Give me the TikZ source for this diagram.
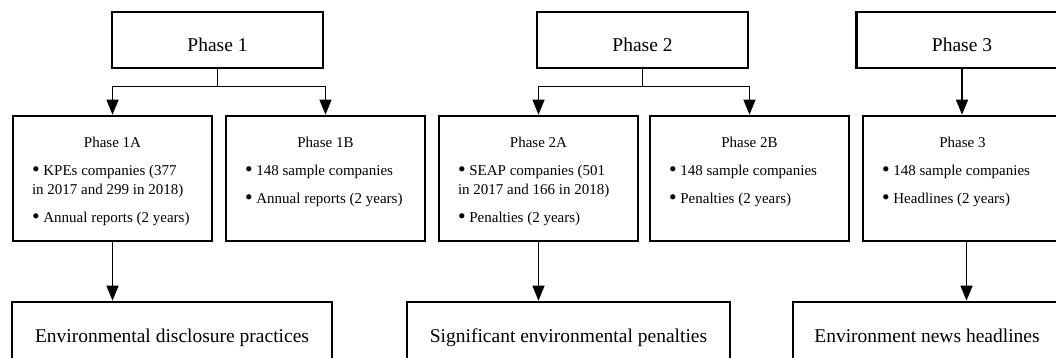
\documentclass[tikz,border=0pt]{standalone}
\usepackage{fontspec}
\setmainfont{Liberation Serif}
\usepackage{graphicx}
\usepackage{tikz}
\usetikzlibrary{arrows.meta}

\tikzset{
  phasebox/.style={draw, line width=2.6pt, minimum width=211pt, minimum height=56pt, inner sep=0pt,
    font=\fontsize{19.5pt}{23pt}\selectfont, text height=26pt, text depth=2pt},
  subbox/.style={draw, line width=2.6pt, minimum width=199pt, minimum height=125pt, inner sep=0pt,
    font=\fontsize{15pt}{19pt}\selectfont},
  outbox/.style={draw, line width=2.6pt, minimum height=70pt, inner sep=0pt,
    font=\fontsize{19.5pt}{23pt}\selectfont, text height=14pt, text depth=4pt},
  link/.style={line width=1.3pt},
  arr/.style={link, -{Triangle[length=15pt,width=12pt]}}
}

% box text: heading, then bullet items
\newcommand{\phasetext}[2]{\parbox[c][109pt][t]{161pt}{\centering\rule{0pt}{24pt}#1\par\raggedright #2}}
\newcommand{\bitem}[1]{\par\vspace{8.5pt}\raisebox{-1.4pt}{\scalebox{1.45}{\textbullet}}\ #1}

\begin{document}
\begin{tikzpicture}[x=1pt, y=-1pt]

    % Frame
    \useasboundingbox (0,0) rectangle (1056,358);
    \clip (0,0) rectangle (1056,358);

    % Phases
    \node[phasebox] (p1) at (217.5,40) {Phase 1};
    \node[phasebox] (p2) at (642.5,40) {Phase 2};
    \node[phasebox] (p3) at (962,40) {Phase 3};

    % Sub-phases
    \node[subbox] (p1a) at (112.5,178.5) {\phasetext{Phase 1A}{\bitem{KPEs companies (377\\in 2017 and 299 in 2018)}\bitem{Annual reports (2 years)}}};
    \node[subbox] (p1b) at (325.5,178.5) {\phasetext{Phase 1B}{\bitem{148 sample companies}\bitem{Annual reports (2 years)}}};
    \node[subbox] (p2a) at (538.5,178.5) {\phasetext{Phase 2A}{\bitem{SEAP companies (501\\in 2017 and 166 in 2018)}\bitem{Penalties (2 years)}}};
    \node[subbox] (p2b) at (749.5,178.5) {\phasetext{Phase 2B}{\bitem{148 sample companies}\bitem{Penalties (2 years)}}};
    \node[subbox] (p3a) at (962.5,178.5) {\phasetext{Phase 3}{\bitem{148 sample companies}\bitem{Headlines (2 years)}}};

    % Outcomes
    \node[outbox, minimum width=320pt] (out1) at (172,337) {Environmental disclosure practices};
    \node[outbox, minimum width=323pt] (out2) at (568.5,337) {Significant environmental penalties};
    \node[outbox, minimum width=268pt] (out3) at (927,337) {Environment news headlines};

    % Phase 1 links
    \draw[link] (p1.south) -- ++(0,17) coordinate (f1);
    \draw[arr] (f1) -| (p1a.north);
    \draw[arr] (f1) -| (p1b.north);
    \draw[arr] (p1a.south) -- (p1a.south |- out1.north);

    % Phase 2 links
    \draw[link] (p2.south) -- ++(0,17) coordinate (f2);
    \draw[arr] (f2) -| (p2a.north);
    \draw[arr] (f2) -| (p2b.north);
    \draw[arr] (p2a.south) -- (p2a.south |- out2.north);

    % Phase 3 links
    \draw[arr] (p3.south) -- (p3.south |- p3a.north);
    \draw[arr] ([xshift=4pt]p3a.south) -- ([xshift=4pt]p3a.south |- out3.north);

\end{tikzpicture}
\end{document}
